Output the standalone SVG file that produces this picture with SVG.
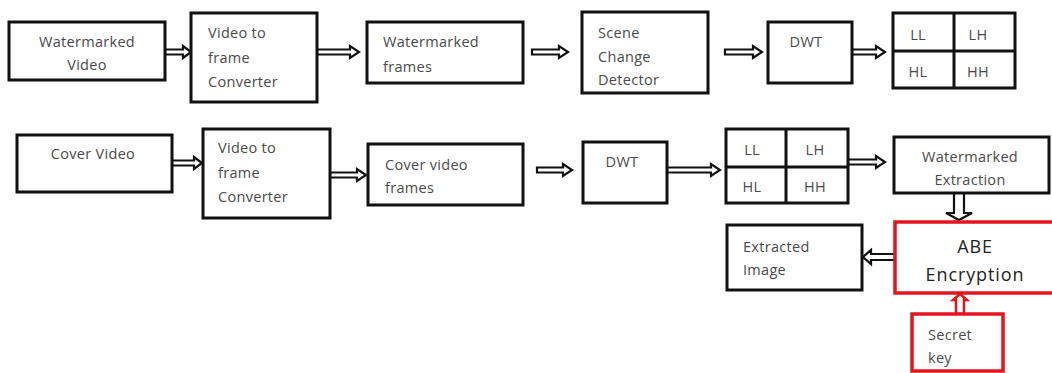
<svg xmlns="http://www.w3.org/2000/svg" width="1052" height="373" viewBox="0 0 1052 373">
<style>
.b{fill:#fff;stroke:#111;stroke-width:3}
.r{fill:#fff;stroke:#e3141b;stroke-width:3.5}
.g{fill:none;stroke:#111;stroke-width:3}
.t{font-family:"Open Sans","Liberation Sans",sans-serif;font-size:14.5px;fill:#4a4a4a;letter-spacing:0.3px}
.c{text-anchor:middle}
.big{font-size:18px;fill:#222;letter-spacing:0.9px}
.a{fill:#fff;stroke:#111;stroke-width:2.2;stroke-linejoin:miter}
.ar{fill:#fff;stroke:#e3141b;stroke-width:2.5}
</style>
<rect width="1052" height="373" fill="#fff"/>
<g id="connectors">
<path class="a" d="M165,49.5H183V46L191,52L183,58V54.5H165Z"/>
<path class="a" d="M317,49.5H350V46L359,52L350,58V54.5H317Z"/>
<path class="a" d="M532,49.5H559V46L568,52L559,58V54.5H532Z"/>
<path class="a" d="M725,49.5H753V46L762,52L753,58V54.5H725Z"/>
<path class="a" d="M852,49.5H876V46L885,52L876,58V54.5H852Z"/>
<path class="a" d="M172,160.5H194V157L202,163L194,169V165.5H172Z"/>
<path class="a" d="M330,172.5H357V169L366,175L357,181V177.5H330Z"/>
<path class="a" d="M537,167.5H563V164L572,170L563,176V172.5H537Z"/>
<path class="a" d="M667,167.5H711V164L720,170L711,176V172.5H667Z"/>
<path class="a" d="M848,159.5H876V156L885,162L876,168V164.5H848Z"/>
<path class="a" d="M954,193V213H946L959,220L972,213H964V193Z"/>
<path class="a" d="M895,254H871V250L863,257L871,264V260H895Z"/>
<path class="ar" d="M956,314V300H953L960,294L967,300H964V314Z"/>
</g>
<g id="watermarked-video">
<rect class="b" x="9" y="22" width="156" height="58"/>
<text class="t c" x="87" y="47">Watermarked</text>
<text class="t c" x="87" y="70">Video</text>
</g>
<g id="video-to-frame-1">
<rect class="b" x="191" y="13" width="126" height="89"/>
<text class="t" x="208" y="38">Video to</text>
<text class="t" x="208" y="63">frame</text>
<text class="t" x="208" y="87">Converter</text>
</g>
<g id="watermarked-frames">
<rect class="b" x="367" y="22" width="156" height="61"/>
<text class="t" x="383" y="47">Watermarked</text>
<text class="t" x="383" y="72">frames</text>
</g>
<g id="scene-change-detector">
<rect class="b" x="582" y="12" width="126" height="81"/>
<text class="t" x="598" y="38">Scene</text>
<text class="t" x="598" y="62">Change</text>
<text class="t" x="598" y="85">Detector</text>
</g>
<g id="dwt-1">
<rect class="b" x="768" y="22" width="84" height="61"/>
<text class="t c" x="806" y="47">DWT</text>
</g>
<g id="subbands-1">
<rect class="b" x="893" y="13" width="122" height="75"/>
<path class="g" d="M954,13V88M893,51H1015"/>
<text class="t c" x="918" y="40">LL</text>
<text class="t c" x="978" y="40">LH</text>
<text class="t c" x="918" y="77">HL</text>
<text class="t c" x="978" y="77">HH</text>
</g>
<g id="cover-video">
<rect class="b" x="17" y="135" width="155" height="57"/>
<text class="t c" x="93" y="159">Cover Video</text>
</g>
<g id="video-to-frame-2">
<rect class="b" x="203" y="129" width="127" height="89"/>
<text class="t" x="218" y="153">Video to</text>
<text class="t" x="218" y="178">frame</text>
<text class="t" x="218" y="202">Converter</text>
</g>
<g id="cover-video-frames">
<rect class="b" x="368" y="144" width="155" height="61"/>
<text class="t" x="385" y="170">Cover video</text>
<text class="t" x="385" y="193">frames</text>
</g>
<g id="dwt-2">
<rect class="b" x="583" y="142" width="84" height="61"/>
<text class="t c" x="622" y="167">DWT</text>
</g>
<g id="subbands-2">
<rect class="b" x="726" y="129" width="122" height="74"/>
<path class="g" d="M786,129V203M726,167H848"/>
<text class="t c" x="752" y="155">LL</text>
<text class="t c" x="815" y="155">LH</text>
<text class="t c" x="752" y="192">HL</text>
<text class="t c" x="815" y="192">HH</text>
</g>
<g id="watermarked-extraction">
<rect class="b" x="894" y="137" width="155" height="56"/>
<text class="t c" x="970" y="162">Watermarked</text>
<text class="t c" x="970" y="185">Extraction</text>
</g>
<g id="abe-encryption">
<rect class="r" x="895" y="222" width="162" height="71"/>
<text class="t c big" x="975" y="253">ABE</text>
<text class="t c big" x="975" y="281">Encryption</text>
</g>
<g id="extracted-image">
<rect class="b" x="727" y="225" width="135" height="65"/>
<text class="t" x="743" y="252">Extracted</text>
<text class="t" x="743" y="275">Image</text>
</g>
<g id="secret-key">
<rect class="r" x="912" y="314" width="91" height="57"/>
<text class="t" x="928" y="340">Secret</text>
<text class="t" x="928" y="363">key</text>
</g>
</svg>
